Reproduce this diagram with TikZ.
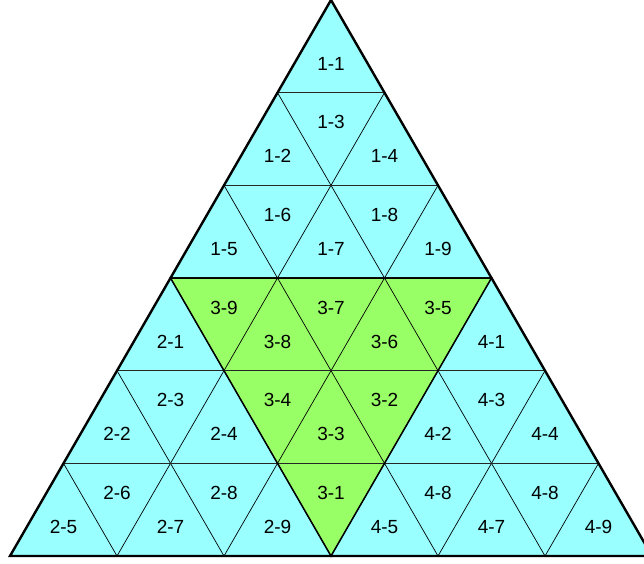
\documentclass[tikz,border=0pt]{standalone}
\usepackage{fontspec}
\setmainfont{Liberation Sans}
\definecolor{cyanfill}{HTML}{99FFFF}
\definecolor{greenfill}{HTML}{99FF66}
\begin{document}
\begin{tikzpicture}[x=1pt,y=-1pt,
  thinline/.style={line width=0.7pt,black},
  rowline/.style={line width=1.1pt,black!85},
  outer/.style={line width=2.4pt,black,line join=miter},
  greenedge/.style={line width=1.5pt,black,line join=miter},
  lbl/.style={font=\fontsize{19}{22}\selectfont,inner sep=0pt,anchor=center}]
\useasboundingbox (0,0) rectangle (644,563);
\clip (0,0) rectangle (644,563);
% lattice points
\foreach \i in {0,...,6}{
  \foreach \j in {0,...,\i}{
    \pgfmathsetmacro\px{331+(2*\j-\i)*53.5}
    \pgfmathsetmacro\py{\i*92.667}
    \coordinate (p-\i-\j) at (\px,\py);
  }
}
% fills
\fill[cyanfill] (p-0-0) -- (p-6-0) -- (p-6-6) -- cycle;
\fill[greenfill] (p-3-0) -- (p-3-3) -- (p-6-3) -- cycle;
% diagonals
\foreach \k in {1,...,5}{
  \pgfmathtruncatemacro\m{6-\k}
  \draw[thinline] (p-\k-\k) -- (p-6-\k);
  \draw[thinline] (p-\k-0) -- (p-6-\m);
}
% horizontals
\foreach \k in {1,...,5}{
  \draw[rowline] (p-\k-0) -- (p-\k-\k);
}
% green border
\draw[greenedge] (p-3-0) -- (p-3-3) -- (p-6-3) -- cycle;
% outer triangle
\draw[outer] (p-0-0) -- (p-6-0) -- (p-6-6) -- cycle;
% labels
\foreach \r/\k/\t in {1/0/1-1,
  2/0/1-2,2/1/1-3,2/2/1-4,
  3/0/1-5,3/1/1-6,3/2/1-7,3/3/1-8,3/4/1-9,
  4/0/2-1,4/1/3-9,4/2/3-8,4/3/3-7,4/4/3-6,4/5/3-5,4/6/4-1,
  5/0/2-2,5/1/2-3,5/2/2-4,5/3/3-4,5/4/3-3,5/5/3-2,5/6/4-2,5/7/4-3,5/8/4-4,
  6/0/2-5,6/1/2-6,6/2/2-7,6/3/2-8,6/4/2-9,6/5/3-1,6/6/4-5,6/7/4-8,6/8/4-7,6/9/4-8,6/10/4-9}{
  \pgfmathsetmacro\lx{331+(\k-\r+1)*53.5}
  \pgfmathsetmacro\ly{(\r-1)*92.667+63.5-34*mod(\k,2)}
  \node[lbl] (L\r-\k) at (\lx,\ly) {\t};
}
\end{tikzpicture}
\end{document}
